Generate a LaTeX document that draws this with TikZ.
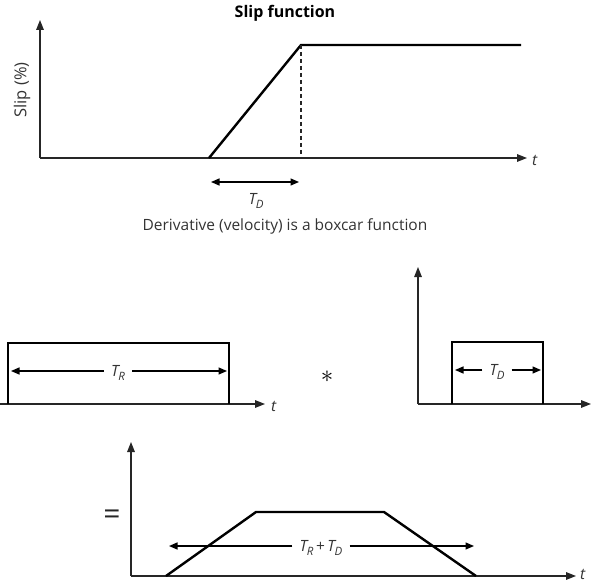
\documentclass[tikz,border=0pt]{standalone}
\usepackage{fontspec}
\setmainfont{Open Sans}
\usetikzlibrary{arrows.meta}
\definecolor{ink}{HTML}{333333}
\newcommand{\Tsub}[1]{{\itshape T\kern-0.5pt\raisebox{-0.45ex}{\fontsize{11.5}{12}\selectfont #1}}}
\begin{document}
\begin{tikzpicture}[x=1pt,y=-1pt,
  axis/.style={line width=1.4pt, draw=black!85, -{Triangle[length=10pt,width=7.5pt]}},
  curve/.style={line width=2.4pt, line join=miter},
  dimline/.style={line width=1.4pt, {Triangle[length=8.5pt,width=7pt]}-{Triangle[length=8.5pt,width=7pt]}},
  dimhead/.style={line width=1.4pt, -{Triangle[length=8.5pt,width=7pt]}},
  lbl/.style={font=\fontsize{15.5}{18}\selectfont, text=ink, inner sep=1pt},
  dimlbl/.style={lbl, inner xsep=7pt, inner ysep=1pt},
]
\useasboundingbox (0,0) rectangle (597,583);

% ---------- top panel ----------
\node[font=\bfseries\fontsize{16}{18}\selectfont, text=black] (title) at (285,13) {Slip function};
\coordinate (o1) at (40,158);
\coordinate (y1) at (40,20);
\coordinate (x1) at (527,158);
\coordinate (r0) at (209,158);
\coordinate (r1) at (301,45);
\coordinate (r2) at (521,45);
\coordinate (d0) at (301,158);
\draw[axis] (o1) -- (y1);
\draw[axis] (o1) -- (x1);
\node[lbl, anchor=west] (t1) at (531,160) {\itshape t};
\node[lbl, font=\fontsize{16.5}{18}\selectfont, rotate=90] (ylab) at (22,90) {Slip (\%)};
\draw[curve] (r0) -- (r1) -- (r2);
\draw[line width=1.1pt, draw=black!85, dash pattern=on 4pt off 3pt] (r1) -- (d0);
\coordinate (a1) at (211,182);
\coordinate (a2) at (299,182);
\draw[dimline] (a1) -- (a2);
\node[lbl] (td1) at (256,201) {\Tsub{D}};
\node[lbl] (deriv) at (285,226) {Derivative (velocity) is a boxcar function};

% ---------- middle left ----------
\coordinate (o2) at (0,404);
\coordinate (x2) at (265,404);
\draw[axis] (o2) -- (x2);
\node[lbl, anchor=west] (t2) at (270,406) {\itshape t};
\coordinate (bl0) at (8,404);
\coordinate (bl1) at (8,343);
\coordinate (br1) at (229,343);
\coordinate (br0) at (229,404);
\draw[curve] (bl0) -- (bl1) -- (br1) -- (br0);
\node[dimlbl] (tr) at (118,373) {\Tsub{R}};
\coordinate (trl) at (11,371);
\coordinate (trr) at (227,371);
\draw[dimhead] (tr.west |- trl) -- (trl);
\draw[dimhead] (tr.east |- trr) -- (trr);

\node[font=\fontsize{34}{34}\selectfont, text=black] (star) at (327,377) {$\ast$};

% ---------- middle right ----------
\coordinate (o3) at (418,404);
\coordinate (y3) at (418,267);
\coordinate (x3) at (591,404);
\draw[axis] (o3) -- (y3);
\draw[axis] (o3) -- (x3);
\coordinate (cl0) at (452,404);
\coordinate (cl1) at (452,342);
\coordinate (cr1) at (543,342);
\coordinate (cr0) at (543,404);
\draw[curve] (cl0) -- (cl1) -- (cr1) -- (cr0);
\node[dimlbl] (td2) at (497,372) {\Tsub{D}};
\coordinate (tdl) at (455,370);
\coordinate (tdr) at (541,370);
\draw[dimhead] (td2.west |- tdl) -- (tdl);
\draw[dimhead] (td2.east |- tdr) -- (tdr);

% ---------- bottom ----------
\node[font=\fontsize{30}{30}\selectfont, text=black!85] (eq) at (112,517) {=};
\coordinate (o4) at (131,576);
\coordinate (y4) at (131,442);
\coordinate (x4) at (576,576);
\draw[axis] (o4) -- (y4);
\draw[axis] (o4) -- (x4);
\node[lbl, anchor=west] (t4) at (579,574) {\itshape t};
\coordinate (p0) at (166,576);
\coordinate (p1) at (256,512);
\coordinate (p2) at (384,512);
\coordinate (p3) at (476,576);
\draw[curve] (p0) -- (p1) -- (p2) -- (p3);
\node[dimlbl] (trd) at (321,548) {\Tsub{R}\,+\,\Tsub{D}};
\coordinate (sl) at (169,546);
\coordinate (sr) at (474,546);
\draw[dimhead] (trd.west |- sl) -- (sl);
\draw[dimhead] (trd.east |- sr) -- (sr);
\end{tikzpicture}
\end{document}
